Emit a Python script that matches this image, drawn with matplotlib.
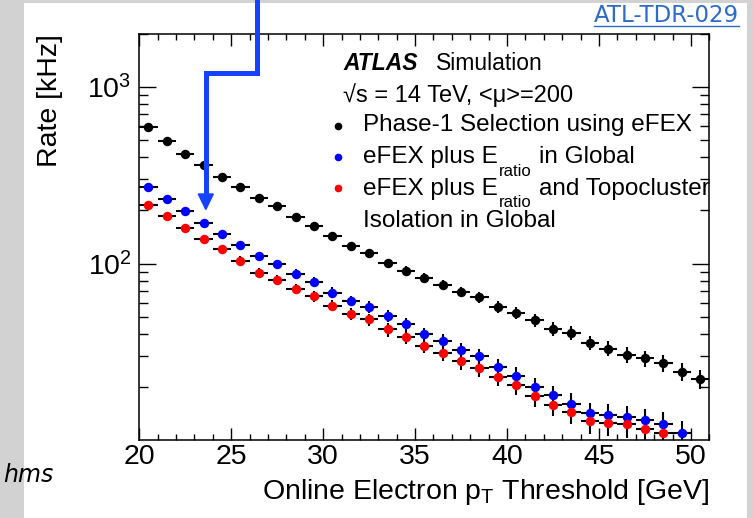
import matplotlib
matplotlib.use('Agg')
import matplotlib.pyplot as plt
from matplotlib.lines import Line2D
from matplotlib.patches import Rectangle, Polygon
from matplotlib.ticker import FixedLocator, FixedFormatter, MultipleLocator, LogLocator, NullFormatter

plt.rcParams['font.family'] = ['Liberation Sans', 'DejaVu Sans']
plt.rcParams['mathtext.fontset'] = 'custom'
plt.rcParams['mathtext.rm'] = 'Liberation Sans'
plt.rcParams['mathtext.it'] = 'Liberation Sans:italic'

## bin centres of the online pT threshold [GeV]
bin_centres = [20.5, 21.5, 22.5, 23.5, 24.5, 25.5, 26.5, 27.5, 28.5, 29.5,
               30.5, 31.5, 32.5, 33.5, 34.5, 35.5, 36.5, 37.5, 38.5, 39.5,
               40.5, 41.5, 42.5, 43.5, 44.5, 45.5, 46.5, 47.5, 48.5, 49.5, 50.5]

## rates [kHz]
rate_phase1 = [591, 492, 419, 360, 310, 270, 236, 211, 184, 163,
               144, 126, 115, 101, 91.3, 83, 76, 69.2, 64.5, 56.9,
               52.6, 47.6, 42.8, 40.5, 35.6, 33.0, 30.5, 29.0, 27.4, 24.4, 22.1]
err_phase1 = [13.7, 12.5, 11.5, 10.7, 9.9, 9.3, 8.7, 8.2, 7.7, 7.2,
              6.8, 6.3, 6.0, 5.7, 5.4, 5.1, 4.9, 4.7, 4.5, 4.3,
              4.1, 3.9, 3.7, 3.6, 3.4, 3.2, 3.1, 3.0, 3.0, 2.8, 2.7]

rate_eratio = [270, 232, 199.5, 170, 147, 128, 111, 99, 87.5, 78.4,
               68.5, 61.5, 56.9, 50.4, 45.6, 39.7, 36.3, 32.3, 29.9, 26.0,
               23.2, 20.0, 17.9, 16.1, 14.2, 13.8, 13.5, 13.0, 12.4, 10.9]
err_eratio = [9.3, 8.6, 8.0, 7.4, 6.8, 6.4, 5.9, 5.6, 5.3, 5.0,
              4.7, 4.4, 4.3, 4.0, 3.8, 3.6, 3.4, 3.2, 3.1, 2.9,
              2.7, 2.5, 2.4, 2.3, 2.1, 2.1, 2.1, 2.0, 2.0, 1.9]

rate_topo = [216, 187, 160, 138.5, 121, 104, 88.5, 80.5, 72, 65.3,
             57.8, 52.1, 48.2, 42.3, 38.5, 34.3, 31.2, 28.0, 25.7, 22.9,
             20.6, 17.7, 15.8, 14.4, 12.8, 12.5, 12.3, 11.6, 11.0]
err_topo = [8.3, 7.7, 7.1, 6.6, 6.2, 5.8, 5.3, 5.1, 4.8, 4.6,
            4.3, 4.1, 3.9, 3.7, 3.5, 3.3, 3.2, 3.0, 2.9, 2.7,
            2.6, 2.4, 2.2, 2.1, 2.0, 2.0, 2.0, 1.9, 1.9]

series = [
    (rate_phase1, err_phase1, 'black'),
    (rate_eratio, err_eratio, '#0000ff'),
    (rate_topo, err_topo, '#ff0000'),
]

W, H = 753, 518

def fpos(x, y):
    ## pixel position (from top-left) -> figure fraction
    return x / W, 1 - y / H

fig = plt.figure(figsize=(W / 100, H / 100), dpi=100, facecolor='#d2d2d2')
fig.patches.append(Rectangle(fpos(24, H), (747 - 24) / W, (H - 3) / H,
                             transform=fig.transFigure, facecolor='white',
                             edgecolor='none', zorder=-5))

ax = fig.add_axes([139.3 / W, 1 - 440 / H, 570 / W, 406 / H])

for rate, err, col in series:
    xs = bin_centres[:len(rate)]
    ax.errorbar(xs, rate, xerr=0.5, yerr=err, fmt='o', color=col, ecolor='black',
                elinewidth=1.5, capsize=0, markersize=6.8, markeredgewidth=0)

ax.set_yscale('log')
ax.set_xlim(20, 51)
ax.set_ylim(10, 2000)

ax.xaxis.set_major_locator(MultipleLocator(5))
ax.xaxis.set_minor_locator(MultipleLocator(1))
ax.yaxis.set_major_locator(FixedLocator([100, 1000]))
ax.yaxis.set_major_formatter(FixedFormatter([r'$10^{2}$', r'$10^{3}$']))
ax.yaxis.set_minor_locator(LogLocator(subs=[2, 3, 4, 5, 6, 7, 8, 9]))
ax.yaxis.set_minor_formatter(NullFormatter())

ax.tick_params(which='both', direction='in', top=True, right=True, width=1.0)
ax.tick_params(axis='x', which='major', length=8.5, labelsize=20.5, pad=3)
ax.tick_params(axis='x', which='minor', length=4.3)
ax.tick_params(axis='y', which='major', length=12, labelsize=20.5, pad=5.5)
ax.tick_params(axis='y', which='minor', length=6.5)
for sp in ax.spines.values():
    sp.set_linewidth(1.1)

ax.set_xlabel(r'Online Electron $\mathrm{p}_{\mathrm{T}}$ Threshold [GeV]', fontsize=20.5, loc='right')
ax.xaxis.set_label_coords(1.0, -0.09)
ax.set_ylabel('Rate [kHz]', fontsize=20.5, loc='top')
ax.yaxis.set_label_coords(-0.134, 1.0)

## ATLAS label and legend, placed by pixel baselines
fig.text(*fpos(343.3, 70), 'ATLAS', fontsize=16.5, fontweight='bold', fontstyle='italic', va='baseline')
fig.text(*fpos(436, 70), 'Simulation', fontsize=16.5, va='baseline')
fig.text(*fpos(343.3, 101.7), '\u221as = 14 TeV, <\u03bc>=200', fontsize=17, va='baseline')

leg_x, txt_x = 338, 363.3
rows = [(126, 130.7, 'black'), (157, 163.3, '#0000ff'), (188, 195, '#ff0000')]
for yc, yb, col in rows:
    fig.add_artist(Line2D([leg_x / W], [1 - yc / H], marker='o', color=col,
                          markersize=5.5, markeredgewidth=0, transform=fig.transFigure))

renderer = fig.canvas.get_renderer()

def chain(x, yb, parts):
    ## draw text pieces one after another; parts = (text, size, dy, gap)
    for txt, size, dy, gap in parts:
        t = fig.text(*fpos(x + gap, yb + dy), txt, fontsize=size, va='baseline')
        x = t.get_window_extent(renderer).x1

fig.text(*fpos(txt_x, 130.7), 'Phase-1 Selection using eFEX', fontsize=17.5, va='baseline')
chain(txt_x, 163.3, [('eFEX plus E', 17.5, 0, 0), ('ratio', 12, 12.5, 1), ('in Global', 17.5, 0, 7)])
chain(txt_x, 195, [('eFEX plus E', 17.5, 0, 0), ('ratio', 12, 12, 1), ('and Topocluster', 17.5, 0, 7)])
fig.text(*fpos(txt_x, 226.7), 'Isolation in Global', fontsize=17.5, va='baseline')

## blue pointer arrow drawn over the page
arrow_col = '#1541ff'
fig.add_artist(Line2D([256.8 / W, 256.8 / W, 205.8 / W, 205.8 / W],
                      [1.0, 1 - 72.8 / H, 1 - 72.8 / H, 1 - 196 / H],
                      color=arrow_col, linewidth=3.6, solid_joinstyle='miter',
                      transform=fig.transFigure, zorder=10))
fig.add_artist(Polygon([fpos(198.3, 194), fpos(213.3, 194), fpos(205.8, 209.5)],
                       closed=True, color=arrow_col, transform=fig.transFigure, zorder=10))

## document reference link and the visible end of the slide text
link = fig.text(*fpos(739, 22), 'ATL-TDR-029', fontsize=16.5, color='#2c6cc8',
                family='DejaVu Sans', ha='right', va='baseline')
bb = link.get_window_extent(renderer)
fig.add_artist(Line2D([bb.x0 / W, bb.x1 / W], [1 - 25.5 / H, 1 - 25.5 / H],
                      color='#2c6cc8', linewidth=1.0, transform=fig.transFigure))
fig.text(*fpos(3, 482), 'hms', fontsize=17, fontstyle='italic',
         family='DejaVu Sans', ha='left', va='baseline')

fig.savefig('out.png', dpi=100, facecolor=fig.get_facecolor())
